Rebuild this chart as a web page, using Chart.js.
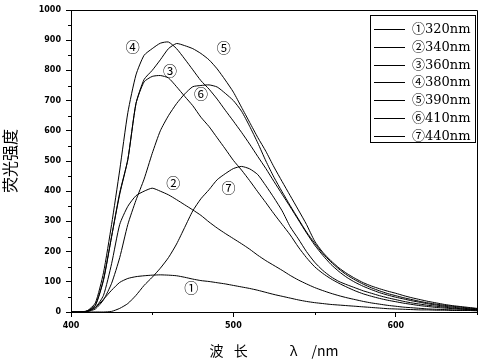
<!DOCTYPE html>
<html>
<head>
<meta charset="utf-8">
<script src="https://cdn.jsdelivr.net/npm/chart.js@4.4.1/dist/chart.umd.min.js"></script>
<style>
  html, body { margin: 0; padding: 0; background: #fff; }
  #wrap { width: 485px; height: 364px; }
</style>
</head>
<body>
<div id="wrap"><canvas id="chart"></canvas></div>
<script>
// wavelength (nm), one reading every 5 nm
const wavelength = [400, 405, 410, 415, 420, 425, 430, 435, 440, 445,
  450, 455, 460, 465, 470, 475, 480, 485, 490, 495,
  500, 505, 510, 515, 520, 525, 530, 535, 540, 545,
  550, 555, 560, 565, 570, 575, 580, 585, 590, 595,
  600, 605, 610, 615, 620, 625, 630, 635, 640, 645, 650];

// fluorescence intensity for each excitation wavelength
const ex320 = [0, 0, 1, 15, 42, 72, 98, 111, 117, 120,
  122, 123, 122, 120, 115, 109, 104, 101, 97, 93,
  88, 83, 78, 72, 65, 58, 52, 46, 40, 35,
  31, 28, 25, 23, 21, 19, 17, 15, 13, 11,
  10, 9, 8, 7, 7, 6, 6, 5, 5, 5, 4];
const ex340 = [0, 0, 3, 15, 55, 160, 290, 350, 385, 400,
  410, 400, 388, 372, 355, 338, 320, 298, 278, 260,
  243, 226, 208, 188, 170, 154, 138, 121, 106, 93,
  81, 71, 62, 54, 47, 41, 35, 30, 26, 22,
  19, 16, 14, 12, 10, 9, 8, 7, 6, 6, 5];
const ex360 = [0, 0, 3, 22, 105, 250, 390, 505, 690, 762,
  780, 783, 775, 746, 714, 683, 645, 614, 577, 540,
  502, 470, 435, 398, 362, 325, 290, 255, 215, 180,
  150, 128, 110, 95, 82, 70, 60, 52, 45, 39,
  34, 29, 25, 21, 18, 15, 13, 11, 9, 8, 7];
const ex380 = [0, 0, 4, 30, 130, 290, 470, 660, 785, 850,
  872, 890, 894, 872, 838, 802, 766, 738, 705, 668,
  632, 595, 556, 515, 475, 432, 390, 348, 305, 262,
  222, 188, 158, 134, 114, 98, 85, 74, 64, 56,
  49, 43, 37, 32, 27, 23, 19, 16, 13, 11, 9];
const ex390 = [0, 0, 3, 22, 108, 250, 395, 505, 690, 770,
  800, 835, 872, 889, 882, 872, 856, 835, 805, 768,
  728, 678, 628, 578, 532, 480, 432, 385, 338, 290,
  235, 198, 170, 146, 127, 111, 97, 86, 77, 69,
  62, 54, 47, 41, 35, 30, 25, 21, 18, 15, 12];
const ex410 = [0, 0, 2, 10, 40, 95, 180, 290, 370, 440,
  525, 600, 650, 690, 722, 746, 750, 752, 745, 724,
  700, 665, 615, 560, 500, 446, 398, 352, 308, 265,
  228, 194, 166, 142, 122, 106, 92, 80, 70, 61,
  54, 47, 41, 35, 30, 26, 22, 19, 16, 13, 11];
const ex440 = [0, 0, 0, 0, 0, 2, 12, 28, 55, 88,
  115, 145, 180, 225, 280, 335, 375, 405, 438, 458,
  475, 482, 474, 455, 418, 378, 335, 282, 242, 200,
  165, 138, 117, 101, 90, 80, 70, 62, 54, 47,
  41, 35, 30, 26, 22, 19, 16, 13, 11, 9, 8];

const seriesNames = ['①320nm', '②340nm', '③360nm', '④380nm', '⑤390nm', '⑥410nm', '⑦440nm'];
const seriesValues = [ex320, ex340, ex360, ex380, ex390, ex410, ex440];

// circled tags written next to each curve, in data units [nm, intensity]
const curveTags = ['①', '②', '③', '④', '⑤', '⑥', '⑦'];
const tagAt = [[474, 80], [463, 428], [461, 798], [438, 880], [494, 874], [480, 722], [497, 411]];

const extras = {
  id: 'extras',
  afterDraw(chart) {
    const { ctx, chartArea: a, scales } = chart;
    ctx.save();
    ctx.strokeStyle = '#000';
    ctx.fillStyle = '#000';
    ctx.lineWidth = 1;

    // top and right side of the frame
    ctx.beginPath();
    ctx.moveTo(a.left, Math.round(a.top) + 0.5);
    ctx.lineTo(Math.round(a.right) + 0.5, Math.round(a.top) + 0.5);
    ctx.lineTo(Math.round(a.right) + 0.5, a.bottom);
    ctx.stroke();

    // short minor ticks
    ctx.beginPath();
    scales.x.ticks.forEach(t => {
      if (t.value % 100 !== 0) {
        const px = Math.round(scales.x.getPixelForValue(t.value)) + 0.5;
        ctx.moveTo(px, a.bottom);
        ctx.lineTo(px, a.bottom + 3);
      }
    });
    scales.y.ticks.forEach(t => {
      if (t.value % 100 !== 0) {
        const py = Math.round(scales.y.getPixelForValue(t.value)) + 0.5;
        ctx.moveTo(a.left - 3, py);
        ctx.lineTo(a.left, py);
      }
    });
    ctx.stroke();

    // legend box
    const bx = Math.round(a.right) - 107, by = Math.round(a.top) + 5;
    ctx.strokeRect(bx + 0.5, by + 0.5, 105, 127);
    ctx.font = '13px "DejaVu Serif", "Noto Sans CJK SC"';
    ctx.textBaseline = 'middle';
    ctx.textAlign = 'left';
    chart.data.datasets.forEach((ds, i) => {
      const y = Math.round(by + 14 + i * 17.8) + 0.5;
      ctx.beginPath();
      ctx.moveTo(bx + 4, y);
      ctx.lineTo(bx + 35, y);
      ctx.stroke();
      ctx.fillText(ds.label, bx + 42, y);
    });

    // tags on the curves
    ctx.font = '14px "Noto Sans CJK SC"';
    ctx.textAlign = 'center';
    curveTags.forEach((tag, i) => {
      ctx.fillText(tag, scales.x.getPixelForValue(tagAt[i][0]), scales.y.getPixelForValue(tagAt[i][1]));
    });
    ctx.restore();
  }
};

const tickFont = { family: 'DejaVu Sans', size: 8, weight: 'bold' };

new Chart(document.getElementById('chart'), {
  type: 'line',
  data: {
    datasets: seriesValues.map((vals, i) => ({
      label: seriesNames[i],
      data: vals.map((v, j) => ({ x: wavelength[j], y: v })),
      borderColor: '#000',
      borderWidth: 1,
      pointRadius: 0,
      tension: 0.2,
      fill: false
    }))
  },
  options: {
    responsive: true,
    maintainAspectRatio: false,
    animation: false,
    layout: { padding: { top: 10, right: 8, left: 0, bottom: 0 } },
    plugins: {
      legend: { display: false },
      tooltip: { enabled: false }
    },
    scales: {
      x: {
        type: 'linear',
        min: 400,
        max: 650,
        afterFit: s => { s.height = 52; },
        border: { display: true, color: '#000', width: 1 },
        grid: {
          drawOnChartArea: false,
          drawTicks: true,
          tickLength: 5,
          tickColor: c => (c.tick && c.tick.value % 100 === 0) ? '#000' : 'rgba(0,0,0,0)'
        },
        ticks: {
          stepSize: 50,
          autoSkip: false,
          maxRotation: 0,
          padding: 4,
          color: '#000',
          font: tickFont,
          callback: v => (v % 100 === 0 ? v : '')
        },
        title: {
          display: true,
          text: '波\u2002 长　　　λ　/nm',
          color: '#000',
          font: { family: 'Noto Sans CJK SC', size: 14 },
          padding: { top: 0, bottom: 5 }
        }
      },
      y: {
        min: 0,
        max: 1000,
        afterFit: s => { s.width = 71; },
        border: { display: true, color: '#000', width: 1 },
        grid: {
          drawOnChartArea: false,
          drawTicks: true,
          tickLength: 5,
          tickColor: c => (c.tick && c.tick.value % 100 === 0) ? '#000' : 'rgba(0,0,0,0)'
        },
        ticks: {
          stepSize: 50,
          autoSkip: false,
          padding: 5,
          color: '#000',
          font: tickFont,
          callback: v => (v % 100 === 0 ? v : '')
        },
        title: {
          display: true,
          text: '荧光强度',
          color: '#000',
          font: { family: 'Noto Sans CJK SC', size: 16 },
          padding: { top: 0, bottom: 0 }
        }
      }
    }
  },
  plugins: [extras]
});
</script>
</body>
</html>
